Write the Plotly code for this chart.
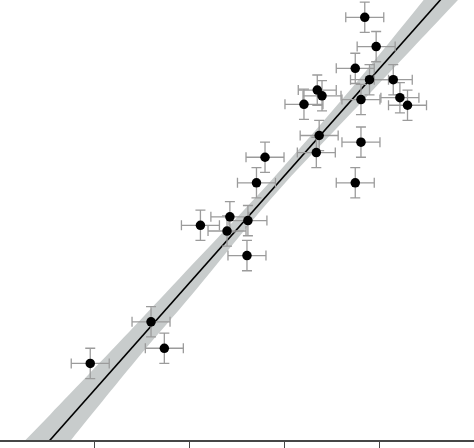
import plotly.graph_objects as go

# measured values (x ticks are at 1, 2, 3, 4)
x_vals = [3.84, 3.96, 3.74, 3.89, 4.14, 3.34, 3.39, 3.20, 3.80, 4.21, 4.29,
          3.36, 3.80, 3.33, 2.79, 2.70, 3.74, 2.42, 2.11, 2.61, 2.39, 2.60,
          1.59, 1.73, 0.95]
y_vals = [4.47, 4.16, 3.93, 3.81, 3.81, 3.70, 3.64, 3.55, 3.60, 3.62, 3.54,
          3.22, 3.15, 3.04, 2.99, 2.72, 2.72, 2.36, 2.27, 2.32, 2.21, 1.95,
          1.25, 0.97, 0.81]
x_err = 0.20
y_err = 0.16

# regression line and its confidence band
band_x = [0.21, 0.53, 1.47, 2.03, 2.86, 3.71, 4.63, 4.95]
fit_y = [-0.36, 0.0, 1.07, 1.71, 2.65, 3.60, 4.65, 5.01]
band_lo = [-0.66, -0.27, 0.89, 1.55, 2.56, 3.47, 4.45, 4.79]
band_hi = [-0.06, 0.27, 1.26, 1.86, 2.75, 3.73, 4.86, 5.23]

fig = go.Figure()

fig.add_trace(go.Scatter(x=band_x, y=band_lo, mode='lines', line=dict(width=0, shape='spline'),
                         hoverinfo='skip', showlegend=False))
fig.add_trace(go.Scatter(x=band_x, y=band_hi, mode='lines', line=dict(width=0, shape='spline'),
                         fill='tonexty', fillcolor='rgb(200,204,204)',
                         hoverinfo='skip', showlegend=False))
fig.add_trace(go.Scatter(x=[band_x[0], band_x[-1]], y=[fit_y[0], fit_y[-1]], mode='lines',
                         line=dict(color='black', width=1.6), showlegend=False))

fig.add_trace(go.Scatter(
    x=x_vals, y=y_vals, mode='markers',
    marker=dict(color='black', size=9.5),
    error_x=dict(type='constant', value=x_err, color='rgb(155,155,155)', thickness=1.3, width=5),
    error_y=dict(type='constant', value=y_err, color='rgb(155,155,155)', thickness=1.3, width=5),
    showlegend=False))

fig.update_layout(
    width=474, height=448,
    margin=dict(l=0, r=0, t=0, b=6),
    plot_bgcolor='white', paper_bgcolor='white',
)
fig.update_xaxes(range=[0, 4.99], showgrid=False, zeroline=False,
                 showline=True, linecolor='rgb(70,70,70)', linewidth=1.5,
                 ticks='outside', ticklen=8, tickcolor='rgb(70,70,70)', tickwidth=1.2,
                 tickvals=[1, 2, 3, 4], showticklabels=False)
fig.update_yaxes(range=[0, 4.653], showgrid=False, zeroline=False,
                 showline=False, showticklabels=False, ticks='')

# page body has a default 8px margin; drop it so the figure fills the window
fig.write_html("out.html", config={'displayModeBar': False},
               post_script="document.body.style.margin='0';")
